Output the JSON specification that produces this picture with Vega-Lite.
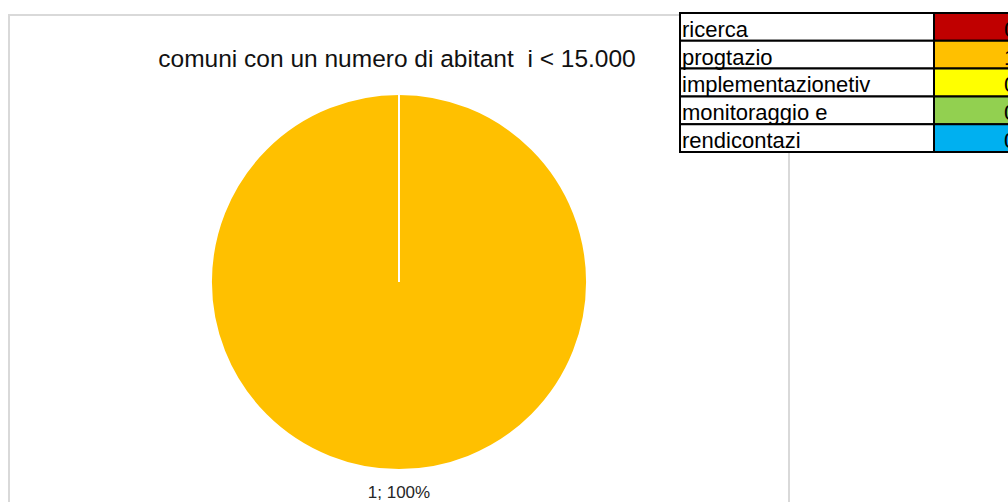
{
  "$schema": "https://vega.github.io/schema/vega-lite/v6.json",
  "width": 780,
  "height": 534,
  "autosize": {"type": "none"},
  "padding": {"left": 9, "top": 15, "right": 219, "bottom": 0},
  "background": "white",
  "config": {
    "view": {"stroke": "#D9D9D9", "strokeWidth": 2, "fill": "white"},
    "font": "Liberation Sans"
  },
  "title": {
    "text": "comuni con un numero di abitant\u00a0 i < 15.000",
    "font": "Liberation Sans",
    "fontSize": 24.5,
    "fontWeight": "normal",
    "color": "#111111",
    "anchor": "middle",
    "frame": "group",
    "baseline": "alphabetic",
    "offset": -79,
    "dx": -2
  },
  "data": {
    "values": [
      {"categoria": "ricerca", "valore": 0},
      {"categoria": "progtazio", "valore": 1},
      {"categoria": "implementazionetiv", "valore": 0},
      {"categoria": "monitoraggio e", "valore": 0},
      {"categoria": "rendicontazi", "valore": 0}
    ]
  },
  "layer": [
    {
      "mark": {"type": "arc", "outerRadius": 188, "stroke": "white", "strokeWidth": 2},
      "encoding": {
        "theta": {"field": "valore", "type": "quantitative", "stack": true},
        "color": {
          "field": "categoria",
          "type": "nominal",
          "scale": {
            "domain": ["ricerca", "progtazio", "implementazionetiv", "monitoraggio e", "rendicontazi"],
            "range": ["#C00000", "#FFC000", "#FFFF00", "#92D050", "#00B0F0"]
          },
          "legend": null
        }
      }
    },
    {
      "transform": [
        {"joinaggregate": [{"op": "sum", "field": "valore", "as": "totale"}]},
        {"filter": "datum.valore > 0"},
        {"calculate": "datum.valore + '; ' + format(datum.valore / datum.totale, '.0%')", "as": "etichetta"}
      ],
      "mark": {"type": "text", "radius": 211, "fontSize": 17, "color": "#262626", "baseline": "middle", "align": "center"},
      "encoding": {
        "theta": {"field": "valore", "type": "quantitative", "stack": true},
        "text": {"field": "etichetta", "type": "nominal"}
      }
    },
    {
      "mark": {"type": "rect", "fill": "white", "stroke": "black", "strokeWidth": 2},
      "encoding": {
        "x": {"datum": "nome", "type": "nominal", "axis": null,
              "scale": {"domain": ["nome", "numero"], "range": [671, 1179], "paddingInner": 0, "paddingOuter": 0}},
        "y": {"field": "categoria", "type": "nominal", "axis": null, "sort": null,
              "scale": {"domain": ["ricerca", "progtazio", "implementazionetiv", "monitoraggio e", "rendicontazi"], "range": [-2, 137], "paddingInner": 0, "paddingOuter": 0}}
      }
    },
    {
      "mark": {"type": "rect", "stroke": "black", "strokeWidth": 2},
      "encoding": {
        "x": {"datum": "numero", "type": "nominal", "axis": null},
        "y": {"field": "categoria", "type": "nominal", "axis": null, "sort": null},
        "color": {"field": "categoria", "type": "nominal", "legend": null}
      }
    },
    {
      "mark": {"type": "text", "fontSize": 22, "color": "black", "align": "left", "baseline": "alphabetic", "dx": 2, "dy": -4},
      "encoding": {
        "x": {"datum": "nome", "type": "nominal", "axis": null, "bandPosition": 0},
        "y": {"field": "categoria", "type": "nominal", "axis": null, "sort": null, "bandPosition": 1},
        "text": {"field": "categoria", "type": "nominal"}
      }
    },
    {
      "mark": {"type": "text", "fontSize": 22, "color": "black", "align": "left", "baseline": "alphabetic", "dx": 70, "dy": -4},
      "encoding": {
        "x": {"datum": "numero", "type": "nominal", "axis": null, "bandPosition": 0},
        "y": {"field": "categoria", "type": "nominal", "axis": null, "sort": null, "bandPosition": 1},
        "text": {"field": "valore", "type": "quantitative"}
      }
    }
  ]
}
